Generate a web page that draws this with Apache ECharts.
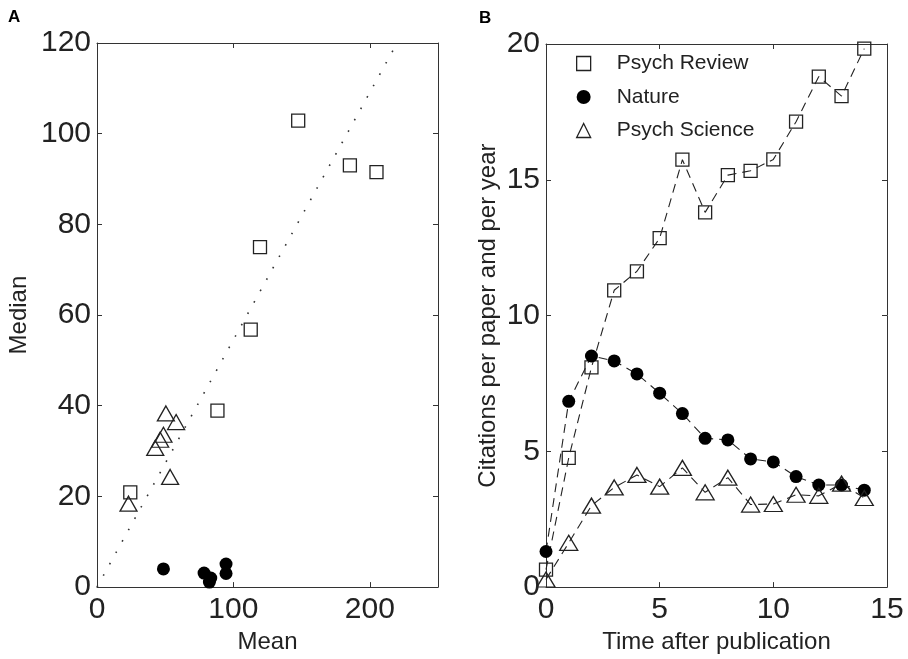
<!DOCTYPE html>
<html>
<head>
<meta charset="utf-8">
<script src="https://cdn.jsdelivr.net/npm/echarts@6/dist/echarts.min.js"></script>
<style>
html,body{margin:0;padding:0;background:#fff;}
#chart{width:908px;height:659px;}
</style>
</head>
<body>
<div id="chart"></div>
<script>
// ---- Panel A data: [Mean, Median] ----
const psychReviewA = [[24.4,20.9],[88.3,38.9],[112.7,56.8],[119.5,75.0],[147.5,102.9],[185.4,93.0],[204.9,91.5]];
const natureA = [[48.7,4.0],[78.5,3.1],[83.4,2.0],[82.4,1.1],[94.6,5.1],[94.6,3.0]];
const psychScienceA = [[23.1,18.4],[42.7,30.7],[46.3,32.5],[48.7,33.6],[50.5,38.3],[58.0,36.4],[53.6,24.3]];
const diagLine = [[0,0],[220,120]];

// ---- Panel B data ----
const years = [0,1,2,3,4,5,6,7,8,9,10,11,12,13,14];
const psychReviewB = [0.64,4.76,8.09,10.93,11.63,12.85,15.74,13.80,15.17,15.33,15.75,17.14,18.80,18.08,19.83];
const natureB = [1.31,6.84,8.51,8.33,7.85,7.14,6.39,5.48,5.42,4.72,4.61,4.07,3.76,3.76,3.57];
const psychScienceB = [0.28,1.63,3.00,3.67,4.13,3.70,4.39,3.49,4.03,3.04,3.06,3.40,3.36,3.81,3.28];

const seriesNames = ['Psych Review','Nature','Psych Science'];

const FONT = "'Liberation Sans', Arial, Helvetica, sans-serif";
const INK = '#222';
const FRAME = '#333';

const hollow = {color:'rgba(0,0,0,0)', borderColor:INK, borderWidth:1.3, opacity:1};
const filled = {color:'#000', borderColor:'#000', borderWidth:0, opacity:1};

function frameAxis(base, extra){
  return Object.assign({
    type:'value',
    axisLine:{show:true, onZero:false, lineStyle:{color:FRAME, width:1}},
    axisTick:{show:true, inside:true, length:5, lineStyle:{color:FRAME, width:1}},
    splitLine:{show:false},
    axisLabel:{show:false}
  }, base, extra);
}
const tickLabel = (margin)=>({show:true, fontSize:30, color:INK, fontFamily:FONT, margin:margin, showMaxLabel:true});

const chart = echarts.init(document.getElementById('chart'));
const zip = (xs, ys)=>xs.map((x,i)=>[x, ys[i]]);

chart.setOption({
  animation:false,
  backgroundColor:'#fff',
  textStyle:{fontFamily:FONT},
  grid:[
    {left:97, top:43, width:341, height:551},
    {left:546, top:44, width:341, height:550}
  ],
  xAxis:[
    frameAxis({gridIndex:0, min:0, max:250, interval:100, position:'bottom'},
      {axisLabel:Object.assign(tickLabel(8),{showMaxLabel:false}),
       name:'Mean', nameLocation:'middle', nameGap:42,
       nameTextStyle:{fontSize:24, color:INK, fontFamily:FONT}}),
    frameAxis({gridIndex:0, min:0, max:250, interval:100, position:'top'}),
    frameAxis({gridIndex:1, min:0, max:15, interval:5, position:'bottom'},
      {axisLabel:tickLabel(8),
       name:'Time after publication', nameLocation:'middle', nameGap:42,
       nameTextStyle:{fontSize:24, color:INK, fontFamily:FONT}}),
    frameAxis({gridIndex:1, min:0, max:15, interval:5, position:'top'})
  ],
  yAxis:[
    frameAxis({gridIndex:0, min:0, max:120, interval:20, position:'left'},
      {axisLabel:tickLabel(6),
       name:'Median', nameLocation:'middle', nameGap:66,
       nameTextStyle:{fontSize:24, color:INK, fontFamily:FONT}}),
    frameAxis({gridIndex:0, min:0, max:120, interval:20, position:'right'}),
    frameAxis({gridIndex:1, min:0, max:20, interval:5, position:'left'},
      {axisLabel:tickLabel(6),
       name:'Citations per paper and per year', nameLocation:'middle', nameGap:46,
       nameTextStyle:{fontSize:24, color:INK, fontFamily:FONT}}),
    frameAxis({gridIndex:1, min:0, max:20, interval:5, position:'right'})
  ],
  legend:{
    show:true,
    orient:'vertical',
    left:571, top:48,
    itemWidth:14, itemHeight:14,
    itemGap:12.5,
    textStyle:{fontSize:21, color:INK, fontFamily:FONT, padding:[0,0,0,21]},
    data:[
      {name:seriesNames[0], icon:'rect', itemStyle:hollow},
      {name:seriesNames[1], icon:'circle', itemStyle:filled},
      {name:seriesNames[2], icon:'triangle', itemStyle:hollow}
    ],
    selectedMode:false
  },
  graphic:[
    {type:'text', left:8, top:9, style:{text:'A', font:"bold 17px "+FONT, fill:'#000'}},
    {type:'text', left:479, top:10, style:{text:'B', font:"bold 17px "+FONT, fill:'#000'}}
  ],
  series:[
    // Panel A
    {type:'line', xAxisIndex:0, yAxisIndex:0, data:diagLine, symbol:'none', silent:true,
     lineStyle:{color:'#333', width:1.6, type:[1.6,11.4]}, z:1},
    {type:'scatter', name:'A-'+seriesNames[0], xAxisIndex:0, yAxisIndex:0, data:psychReviewA,
     symbol:'rect', symbolSize:13, itemStyle:hollow, z:3},
    {type:'scatter', name:'A-'+seriesNames[1], xAxisIndex:0, yAxisIndex:0, data:natureA,
     symbol:'circle', symbolSize:13, itemStyle:filled, z:3},
    {type:'scatter', name:'A-'+seriesNames[2], xAxisIndex:0, yAxisIndex:0, data:psychScienceA,
     symbol:'triangle', symbolSize:[17,15], itemStyle:hollow, z:3},
    // Panel B
    {type:'line', name:seriesNames[0], xAxisIndex:2, yAxisIndex:2, data:zip(years, psychReviewB),
     symbol:'rect', symbolSize:13, showAllSymbol:true, itemStyle:hollow, clip:false,
     lineStyle:{color:INK, width:1.1, type:[9,6]}, z:3},
    {type:'line', name:seriesNames[1], xAxisIndex:2, yAxisIndex:2, data:zip(years, natureB),
     symbol:'circle', symbolSize:13, showAllSymbol:true, itemStyle:filled, clip:false,
     lineStyle:{color:INK, width:1.1, type:[9,6]}, z:3},
    {type:'line', name:seriesNames[2], xAxisIndex:2, yAxisIndex:2, data:zip(years, psychScienceB),
     symbol:'triangle', symbolSize:[18,15], showAllSymbol:true, itemStyle:hollow, clip:false,
     lineStyle:{color:INK, width:1.1, type:[9,6]}, z:3}
  ]
});
</script>
</body>
</html>
